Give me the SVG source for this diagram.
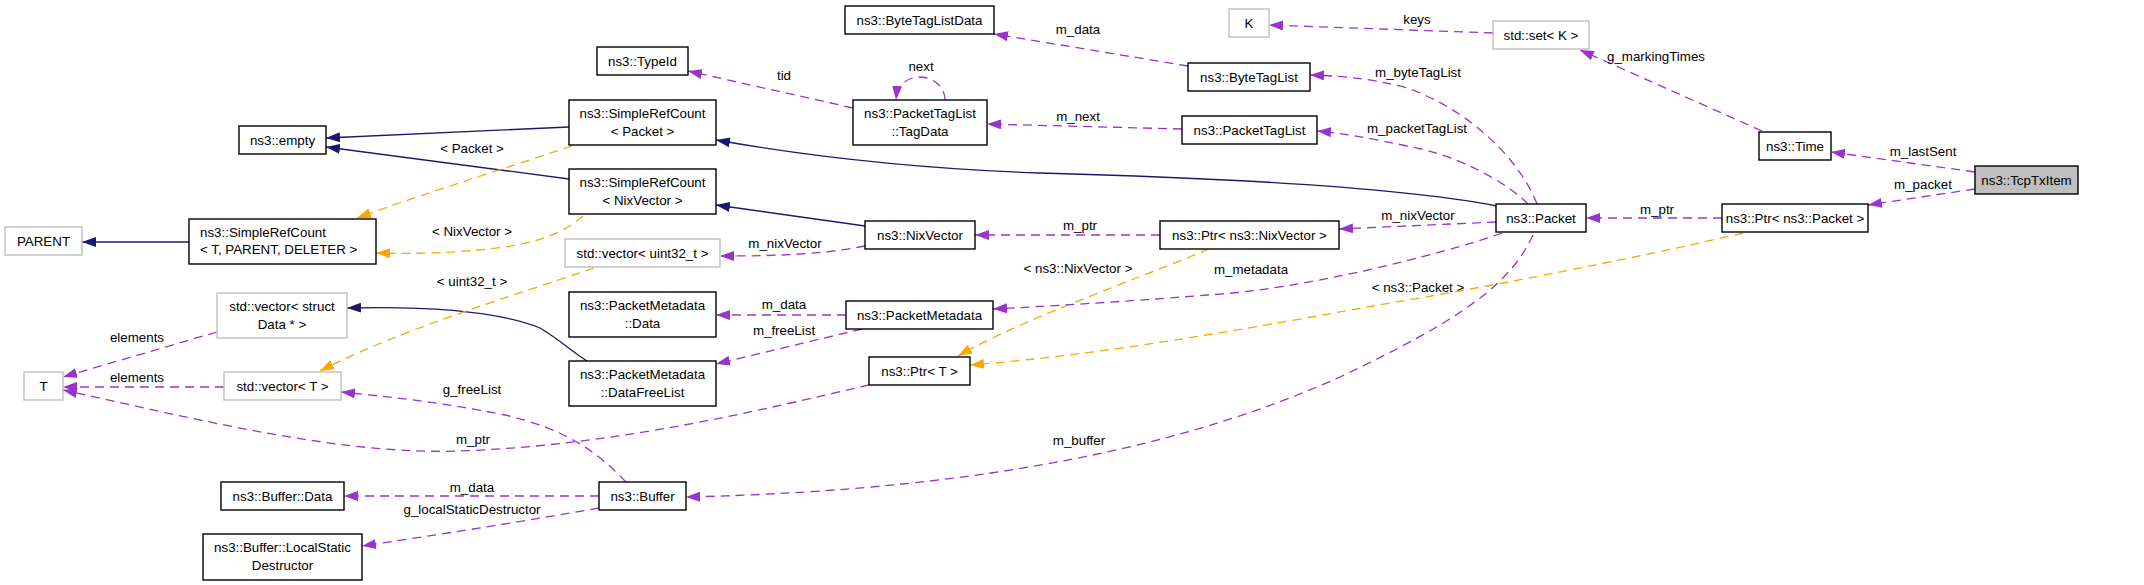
<svg xmlns="http://www.w3.org/2000/svg" width="2144" height="585" viewBox="0 0 2144 585">
<style>
text{font-family:"Liberation Sans",Arial,sans-serif;font-size:13.33px;fill:#000;text-anchor:middle}
.n rect{fill:#fff;stroke:#000;stroke-width:1.4}
.g rect{fill:#fff;stroke:#bfbfbf;stroke-width:1.4}
.cur rect{fill:#bfbfbf;stroke:#000;stroke-width:1.4}
.inh{fill:none;stroke:#191970;stroke-width:1.3;marker-end:url(#ab)}
.use{fill:none;stroke:#9a32cd;stroke-width:1.3;stroke-dasharray:9,6;marker-end:url(#ap)}
.tpl{fill:none;stroke:#ffa500;stroke-width:1.3;stroke-dasharray:9,6;marker-end:url(#ao)}
</style>
<defs>
<marker id="ab" viewBox="0 0 14 10" refX="14" refY="5" markerWidth="14" markerHeight="10" markerUnits="userSpaceOnUse" orient="auto"><path d="M0,0L14,5L0,10z" fill="#191970"/></marker>
<marker id="ap" viewBox="0 0 14 10" refX="14" refY="5" markerWidth="14" markerHeight="10" markerUnits="userSpaceOnUse" orient="auto"><path d="M0,0L14,5L0,10z" fill="#9a32cd"/></marker>
<marker id="ao" viewBox="0 0 14 10" refX="14" refY="5" markerWidth="14" markerHeight="10" markerUnits="userSpaceOnUse" orient="auto"><path d="M0,0L14,5L0,10z" fill="#ffa500"/></marker>
</defs>
<rect width="2144" height="585" fill="#fff"/>
<g id="connectors">
<path class="inh" d="M189,242L82,242"/>
<path class="inh" d="M569,127L326,138"/>
<path class="inh" d="M569,179L326,147"/>
<path class="inh" d="M1497,206C1430,193 1300,180 1040,173C900,168 790,153 716,140"/>
<path class="inh" d="M865,226L716,205"/>
<path class="inh" d="M587,361C570,350 560,340 540,328C500,312 430,306 347,308"/>
<path class="tpl" d="M572,146C500,170 420,195 357,218"/>
<path class="tpl" d="M583,216C565,232 540,242 505,247C460,253 420,254 376,253"/>
<path class="tpl" d="M594,268C500,300 400,330 320,371"/>
<path class="tpl" d="M1209,249C1140,278 1020,320 958,356"/>
<path class="tpl" d="M1743,233C1650,255 1500,285 1373,306C1240,330 1100,355 970,365"/>
<path class="use" d="M217,332L63,377"/>
<path class="use" d="M224,387L63,387"/>
<path class="use" d="M869,385C760,410 620,445 460,451C340,455 200,420 63,390"/>
<path class="use" d="M626,482C600,455 570,430 505,415C440,402 390,397 341,392"/>
<path class="use" d="M599,496L344,496"/>
<path class="use" d="M599,508C520,522 430,536 362,546"/>
<path class="use" d="M846,315L716,315"/>
<path class="use" d="M862,329L716,364"/>
<path class="use" d="M865,246C820,255 770,256 720,256"/>
<path class="use" d="M1160,235L975,235"/>
<path class="use" d="M1182,129L987,124"/>
<path class="use" d="M853,108L688,71"/>
<path class="use" d="M945,100C945,82 925,74 912,78C902,82 897,88 896,100"/>
<path class="use" d="M1188,66L994,34"/>
<path class="use" d="M1493,33L1269,25"/>
<path class="use" d="M1762,131L1580,50"/>
<path class="use" d="M1537,204C1520,160 1470,110 1407,88C1370,78 1340,76 1310,75"/>
<path class="use" d="M1528,204C1510,185 1460,155 1407,146C1370,138 1340,133 1317,131"/>
<path class="use" d="M1496,222L1339,229"/>
<path class="use" d="M1502,233C1440,255 1300,290 1207,295C1120,302 1050,306 993,309"/>
<path class="use" d="M1533,235C1510,285 1460,320 1340,377C1200,440 1000,490 686,497"/>
<path class="use" d="M1722,218L1586,218"/>
<path class="use" d="M1975,172L1831,152"/>
<path class="use" d="M1975,189L1868,205"/>
<text x="472" y="152.5">&lt; Packet &gt;</text>
<text x="472" y="235.5">&lt; NixVector &gt;</text>
<text x="472" y="285.5">&lt; uint32_t &gt;</text>
<text x="137" y="341.5">elements</text>
<text x="137" y="381.5">elements</text>
<text x="472" y="393.5">g_freeList</text>
<text x="473" y="443.5">m_ptr</text>
<text x="472" y="491.5">m_data</text>
<text x="472" y="513.5">g_localStaticDestructor</text>
<text x="784" y="79.5">tid</text>
<text x="921" y="70.5">next</text>
<text x="785" y="247.5">m_nixVector</text>
<text x="784" y="308.5">m_data</text>
<text x="784" y="334.5">m_freeList</text>
<text x="1078" y="33.5">m_data</text>
<text x="1417" y="23.5">keys</text>
<text x="1418" y="76.5">m_byteTagList</text>
<text x="1078" y="120.5">m_next</text>
<text x="1417" y="132.5">m_packetTagList</text>
<text x="1080" y="229.5">m_ptr</text>
<text x="1418" y="219.5">m_nixVector</text>
<text x="1078" y="272.5">&lt; ns3::NixVector &gt;</text>
<text x="1251" y="273.5">m_metadata</text>
<text x="1418" y="291.5">&lt; ns3::Packet &gt;</text>
<text x="1079" y="444.5">m_buffer</text>
<text x="1656" y="60.5">g_markingTimes</text>
<text x="1923" y="155.5">m_lastSent</text>
<text x="1923" y="188.5">m_packet</text>
<text x="1657" y="213.5">m_ptr</text>
</g>
<g id="TcpTxItem" class="cur"><rect x="1975" y="166" width="103" height="28"/><text x="2026.5" y="184.5">ns3::TcpTxItem</text></g>
<g id="Time" class="n"><rect x="1759" y="132" width="72" height="28"/><text x="1795" y="150.5">ns3::Time</text></g>
<g id="PtrPacket" class="n"><rect x="1722" y="204" width="146" height="28"/><text x="1795" y="222.5">ns3::Ptr&lt; ns3::Packet &gt;</text></g>
<g id="setK" class="g"><rect x="1493" y="21" width="96" height="28"/><text x="1541" y="39.5">std::set&lt; K &gt;</text></g>
<g id="K" class="g"><rect x="1229" y="9" width="40" height="28"/><text x="1249" y="27.5">K</text></g>
<g id="Packet" class="n"><rect x="1496" y="204" width="90" height="28"/><text x="1541" y="222.5">ns3::Packet</text></g>
<g id="ByteTagList" class="n"><rect x="1188" y="63" width="122" height="28"/><text x="1249" y="81.5">ns3::ByteTagList</text></g>
<g id="PacketTagList" class="n"><rect x="1182" y="116" width="135" height="28"/><text x="1249.5" y="134.5">ns3::PacketTagList</text></g>
<g id="PtrNixVector" class="n"><rect x="1160" y="221" width="179" height="28"/><text x="1249.5" y="239.5">ns3::Ptr&lt; ns3::NixVector &gt;</text></g>
<g id="ByteTagListData" class="n"><rect x="845" y="6" width="149" height="28"/><text x="919.5" y="24.5">ns3::ByteTagListData</text></g>
<g id="TagData" class="n"><rect x="853" y="100" width="134" height="45"/><text x="920" y="117.5">ns3::PacketTagList</text><text x="920" y="135.5">::TagData</text></g>
<g id="NixVector" class="n"><rect x="865" y="221" width="110" height="28"/><text x="920" y="239.5">ns3::NixVector</text></g>
<g id="PacketMetadata" class="n"><rect x="846" y="301" width="147" height="28"/><text x="919.5" y="319.5">ns3::PacketMetadata</text></g>
<g id="PtrT" class="n"><rect x="869" y="357" width="101" height="28"/><text x="919.5" y="375.5">ns3::Ptr&lt; T &gt;</text></g>
<g id="TypeId" class="n"><rect x="597" y="47" width="91" height="28"/><text x="642.5" y="65.5">ns3::TypeId</text></g>
<g id="SRCPacket" class="n"><rect x="569" y="100" width="147" height="45"/><text x="642.5" y="117.5">ns3::SimpleRefCount</text><text x="642.5" y="135.5">&lt; Packet &gt;</text></g>
<g id="SRCNixVector" class="n"><rect x="569" y="169" width="147" height="45"/><text x="642.5" y="186.5">ns3::SimpleRefCount</text><text x="642.5" y="204.5">&lt; NixVector &gt;</text></g>
<g id="vecUint32" class="g"><rect x="565" y="239" width="155" height="28"/><text x="642.5" y="257.5">std::vector&lt; uint32_t &gt;</text></g>
<g id="PMData" class="n"><rect x="569" y="292" width="147" height="45"/><text x="642.5" y="309.5">ns3::PacketMetadata</text><text x="642.5" y="327.5">::Data</text></g>
<g id="DataFreeList" class="n"><rect x="569" y="361" width="147" height="45"/><text x="642.5" y="378.5">ns3::PacketMetadata</text><text x="642.5" y="396.5">::DataFreeList</text></g>
<g id="Buffer" class="n"><rect x="599" y="482" width="87" height="28"/><text x="642.5" y="500.5">ns3::Buffer</text></g>
<g id="empty" class="n"><rect x="239" y="126" width="87" height="28"/><text x="282.5" y="144.5">ns3::empty</text></g>
<g id="SRCTPD" class="n"><rect x="189" y="219" width="187" height="45"/><text x="200" y="236.5" style="text-anchor:start">ns3::SimpleRefCount</text><text x="200" y="253.5" style="text-anchor:start">&lt; T, PARENT, DELETER &gt;</text></g>
<g id="PARENT" class="g"><rect x="5" y="227" width="77" height="28"/><text x="43.5" y="245.5">PARENT</text></g>
<g id="vecStruct" class="g"><rect x="217" y="293" width="130" height="45"/><text x="282" y="310.5">std::vector&lt; struct</text><text x="282" y="328.5">Data * &gt;</text></g>
<g id="vecT" class="g"><rect x="224" y="372" width="117" height="28"/><text x="282.5" y="390.5">std::vector&lt; T &gt;</text></g>
<g id="T" class="g"><rect x="24" y="372" width="39" height="28"/><text x="43.5" y="390.5">T</text></g>
<g id="BufferData" class="n"><rect x="221" y="482" width="123" height="28"/><text x="282.5" y="500.5">ns3::Buffer::Data</text></g>
<g id="LocalStaticDestructor" class="n"><rect x="203" y="534" width="159" height="46"/><text x="282.5" y="551.5">ns3::Buffer::LocalStatic</text><text x="282.5" y="569.5">Destructor</text></g>
</svg>
